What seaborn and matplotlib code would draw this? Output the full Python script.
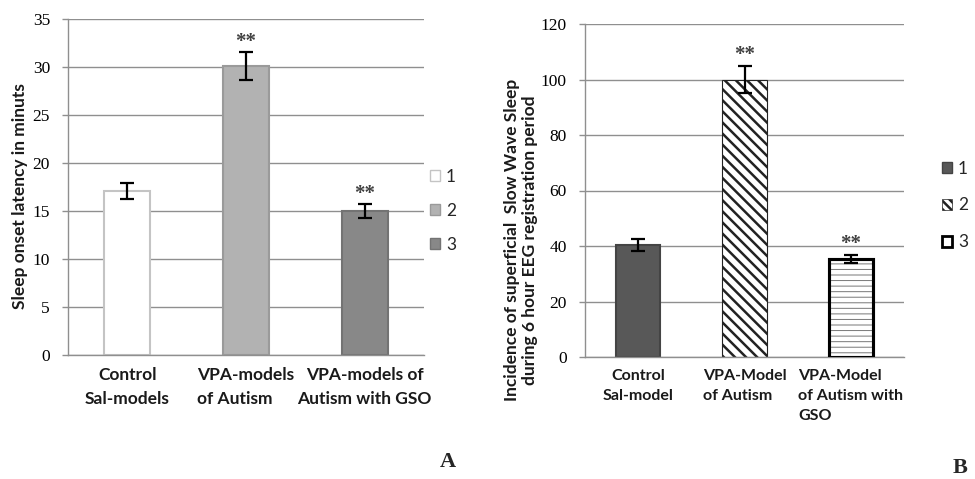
import matplotlib
matplotlib.use("Agg")
import matplotlib.pyplot as plt
import seaborn as sns
import pandas as pd
from matplotlib.patches import Patch, Rectangle

sns.set_theme(style="white")
plt.rcParams['font.family'] = ['Lato', 'DejaVu Sans']
plt.rcParams['hatch.linewidth'] = 1.8

# ---------------- Panel A data ----------------
a_categories = ["Control\nSal-models", "VPA-models\nof Autism", "VPA-models of\nAutism with GSO"]
a_means = [17.1, 30.1, 15.0]
a_errors = [0.8, 1.45, 0.75]
a_signif = ["", "**", "**"]
a_legend = ["1", "2", "3"]
a_ticks = [0, 5, 10, 15, 20, 25, 30, 35]
a_ylabel = "Sleep onset latency in minuts"

# ---------------- Panel B data ----------------
b_categories = ["Control\nSal-model", "VPA-Model\nof Autism", "VPA-Model\nof Autism with\nGSO"]
b_means = [40.5, 100.0, 35.3]
b_errors = [2.2, 5.0, 1.6]
b_signif = ["", "**", "**"]
b_legend = ["1", "2", "3"]
b_ticks = [0, 20, 40, 60, 80, 100, 120]
b_ylabel = "Incidence of superficial  Slow Wave Sleep\nduring 6 hour EEG registration period"

SERIF = ['Liberation Serif', 'DejaVu Serif']
GRID = '#8f8f8f'
TXT = '#1a1a1a'
W, H = 975, 479

fig = plt.figure(figsize=(9.75, 4.79), dpi=100)
fig.patch.set_facecolor('white')


def draw_panel(ax, cats, means, errs, sig, ticks, ylabel, styles, width, aligns,
               ylabel_size, ylabel_xy, star_offset, xlab_size, xlab_spacing):
    df = pd.DataFrame({"cat": cats, "val": means})
    fills = [s["fc"] for s in styles]
    sns.barplot(data=df, x="cat", y="val", hue="cat", palette=fills, width=width,
                legend=False, ax=ax, saturation=1, errorbar=None, zorder=2)
    for p, s in zip(ax.patches, styles):
        p.set_edgecolor(s["ec"])
        p.set_linewidth(s["lw"])
        if s.get("hatch") and not s.get("overlay"):
            p.set_hatch(s["hatch"])
        if s.get("overlay"):
            with plt.rc_context({'hatch.linewidth': s.get("hlw", 0.8)}):
                r = Rectangle((p.get_x(), p.get_y()), p.get_width(), p.get_height(),
                              facecolor='none', edgecolor=s["hc"], hatch=s["hatch"],
                              linewidth=0, zorder=2.5)
            if hasattr(r, 'set_hatch_linewidth'):
                r.set_hatch_linewidth(s.get("hlw", 0.8))
            ax.add_patch(r)
            r2 = Rectangle((p.get_x(), p.get_y()), p.get_width(), p.get_height(),
                           facecolor='none', edgecolor=s["ec"], linewidth=s["lw"],
                           zorder=2.6)
            ax.add_patch(r2)
    xs = list(range(len(cats)))
    ax.errorbar(xs, means, yerr=errs, fmt='none', ecolor='black', elinewidth=1.6,
                capsize=5, capthick=1.6, zorder=4)
    for x, m, e, s in zip(xs, means, errs, sig):
        if s:
            ax.annotate(s, xy=(x, m + e), xytext=(0, star_offset), textcoords='offset points',
                        ha='center', va='bottom', fontsize=15, color='#404040',
                        family=SERIF, fontweight='bold')
    ax.set_ylim(ticks[0], ticks[-1])
    ax.set_xlim(-0.5, len(cats) - 0.5)
    ax.set_yticks(ticks)
    ax.set_yticklabels([str(t) for t in ticks], family=SERIF, fontsize=12.5)
    ax.set_xlabel("")
    ax.set_ylabel(ylabel, fontsize=ylabel_size, fontweight='bold', linespacing=1.15,
                  color=TXT)
    ax.yaxis.label.set_va('center')
    ax.yaxis.set_label_coords(*ylabel_xy)
    ax.yaxis.grid(True, color=GRID, linewidth=1.0)
    ax.set_axisbelow(True)
    for sp in ['top', 'right']:
        ax.spines[sp].set_visible(False)
    for sp in ['left', 'bottom']:
        ax.spines[sp].set_color(GRID)
        ax.spines[sp].set_linewidth(1.0)
    ax.tick_params(axis='y', length=4, width=1, color=GRID, direction='out', left=True,
                   pad=9, labelcolor='black')
    ax.tick_params(axis='x', length=0, pad=9, labelsize=xlab_size, labelcolor=TXT)
    for lbl, al in zip(ax.get_xticklabels(), aligns):
        lbl.set_multialignment(al)
        lbl.set_linespacing(xlab_spacing)
        lbl.set_fontweight('bold')


# ---------------- Panel A ----------------
axA = fig.add_axes([68 / W, 1 - 355 / H, (424 - 68) / W, (355 - 19) / H])
a_styles = [
    dict(fc='#ffffff', ec='#c4c4c4', lw=1.5),
    dict(fc='#b2b2b2', ec='#9a9a9a', lw=1.5),
    dict(fc='#888888', ec='#737373', lw=1.5),
]
draw_panel(axA, a_categories, a_means, a_errors, a_signif, a_ticks, a_ylabel, a_styles,
           0.39, ['center', 'left', 'center'], 12.5, (-0.135, 0.473), 0, 12.5, 1.55)
handlesA = [Patch(facecolor=s["fc"], edgecolor=s["ec"], linewidth=1) for s in a_styles]
fig.legend(handlesA, a_legend, loc='upper left', bbox_to_anchor=(414 / W, 1 - 153 / H),
           frameon=False, handlelength=0.6, handleheight=0.6, handletextpad=0.35,
           labelspacing=1.05, fontsize=12.5)

# ---------------- Panel B ----------------
axB = fig.add_axes([585 / W, 1 - 357 / H, (904 - 585) / W, (357 - 24) / H])
b_styles = [
    dict(fc='#585858', ec='#444444', lw=1.5),
    dict(fc='#ffffff', ec='#222222', lw=0.8, hatch='\\\\\\'),
    dict(fc='#ffffff', ec='#000000', lw=2.2, hatch='---', hc='#777777', hlw=0.7,
         overlay=True),
]
draw_panel(axB, b_categories, b_means, b_errors, b_signif, b_ticks, b_ylabel, b_styles,
           0.42, ['center', 'left', 'left'], 12.5, (-0.2006, 0.351), 0.5, 11.5, 1.5)
handlesB = [
    Patch(facecolor='#585858', edgecolor='#444444', linewidth=1),
    Patch(facecolor='#ffffff', edgecolor='#222222', hatch='\\\\\\\\', linewidth=0.5),
    Patch(facecolor='#ffffff', edgecolor='#000000', linewidth=2),
]
fig.legend(handlesB, b_legend, loc='upper left', bbox_to_anchor=(926 / W, 1 - 145 / H),
           frameon=False, handlelength=0.6, handleheight=0.6, handletextpad=0.35,
           labelspacing=1.2, fontsize=12.5)

# panel letters
fig.text(448 / W, 1 - 462 / H, "A", family=SERIF, fontweight='bold', fontsize=16,
         ha='center', va='center')
fig.text(960 / W, 1 - 468 / H, "B", family=SERIF, fontweight='bold', fontsize=16,
         ha='center', va='center')

fig.savefig("out.png", dpi=100, facecolor='white')
